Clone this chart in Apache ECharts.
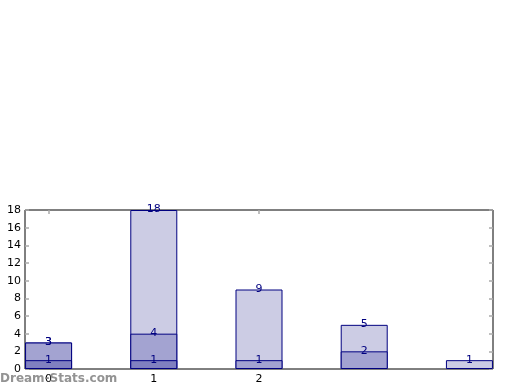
<!DOCTYPE html>
<html><head><meta charset="utf-8">
<script src="https://cdn.jsdelivr.net/npm/echarts@6/dist/echarts.min.js"></script>
<style>html,body{margin:0;padding:0;background:#fff}#c{width:520px;height:390px}</style>
</head><body><div id="c"></div>
<script>
const positions = [0, 1, 2, 3, 4];
const xTickLabels = [0, 1, 2];
const lightValues = [3, 18, 9, 5, 1];
const mediumValues = [3, 4, 1, 2, null];
const darkValues = [1, 1, null, null, null];
const yTicks = [0, 2, 4, 6, 8, 10, 12, 14, 16, 18];

const chart = echarts.init(document.getElementById('c'), null, {renderer: 'canvas'});
const pair = vals => positions.map((p, i) => vals[i] == null ? null : [p, vals[i]]).filter(d => d);
const labelCfg = {show: true, position: 'top', distance: -5, color: '#000080', fontSize: 11, fontFamily: 'DejaVu Sans'};
const mk = (name, vals, color) => ({
  name, type: 'bar', data: pair(vals), barWidth: 47, barGap: '-100%',
  itemStyle: {color, borderColor: '#000080', borderWidth: 1},
  label: labelCfg, animation: false
});
const tickStyle = {show: true, inside: true, length: 4, lineStyle: {color: '#aaa', width: 1.5}};
const noLine = {show: false, onZero: false};
chart.setOption({
  animation: false,
  grid: {left: 25, right: 27, top: 210, bottom: 21, show: true, borderColor: '#000', borderWidth: 1, backgroundColor: 'transparent'},
  xAxis: [
    {type: 'value', min: -0.224, max: 4.224, position: 'bottom',
     axisLine: noLine, splitLine: {show: false},
     axisTick: Object.assign({}, tickStyle, {customValues: xTickLabels}),
     axisLabel: {customValues: xTickLabels, color: '#000', fontSize: 11, fontFamily: 'DejaVu Sans', margin: 5}},
    {type: 'value', min: -0.224, max: 4.224, position: 'top',
     axisLine: noLine, splitLine: {show: false},
     axisTick: Object.assign({}, tickStyle, {customValues: xTickLabels}),
     axisLabel: {show: false}}
  ],
  yAxis: [
    {type: 'value', min: 0, max: 18, interval: 2, position: 'left',
     axisLine: noLine, splitLine: {show: false}, axisTick: tickStyle,
     axisLabel: {color: '#000', fontSize: 11, fontFamily: 'DejaVu Sans', margin: 4}},
    {type: 'value', min: 0, max: 18, interval: 2, position: 'right',
     axisLine: noLine, splitLine: {show: false}, axisTick: tickStyle,
     axisLabel: {show: false}}
  ],
  series: [
    mk('light', lightValues, '#cccce4'),
    mk('medium', mediumValues, '#a3a3d1'),
    mk('dark', darkValues, '#8080c0')
  ],
  graphic: [{type: 'text', left: 0, top: 373, z: 100,
    style: {text: 'Dream-Stats.com', fill: 'rgba(128,128,128,0.85)', font: 'bold 12px "DejaVu Sans"'}}]
});
</script></body></html>
